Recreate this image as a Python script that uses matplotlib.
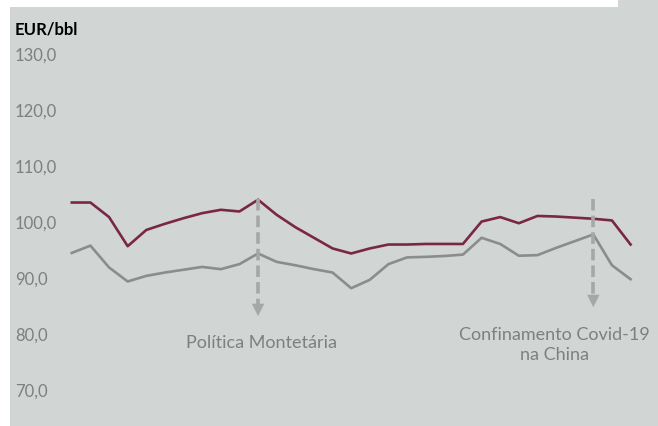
import matplotlib
matplotlib.use("Agg")
import matplotlib.pyplot as plt
from matplotlib.patches import Rectangle

plt.rcParams["font.family"] = ["Lato", "DejaVu Sans"]

periods = list(range(31))
series_red = [103.3, 103.3, 100.7, 95.5, 98.4, 99.5, 100.5, 101.4, 102.0, 101.7,
              103.8, 101.1, 98.9, 97.0, 95.1, 94.2, 95.1, 95.8, 95.8, 95.9,
              95.9, 95.9, 99.9, 100.7, 99.6, 100.9, 100.8, 100.6, 100.4, 100.1,
              95.8]
series_gray = [94.3, 95.6, 91.7, 89.2, 90.2, 90.8, 91.3, 91.8, 91.4, 92.3,
               94.2, 92.7, 92.1, 91.4, 90.8, 88.0, 89.5, 92.3, 93.5, 93.6,
               93.75, 94.0, 97.0, 95.9, 93.8, 93.9, 95.2, 96.4, 97.6, 92.1,
               89.6]
ytick_values = [70, 80, 90, 100, 110, 120, 130]
ytick_labels = ["70,0", "80,0", "90,0", "100,0", "110,0", "120,0", "130,0"]
events = [(10, "Política Montetária"), (28, "Confinamento Covid-19\nna China")]

BG = "#d1d5d4"
RED = "#7a2747"
GREY = "#8b8d8c"
ARROW = "#a6a8a7"
TXT = "#7f7f7f"

W, H = 658, 427
fig = plt.figure(figsize=(W / 100, H / 100), dpi=100, facecolor=BG)
# white margins of the original screenshot
fig.patches.append(Rectangle((0, 0), 10 / W, 1, transform=fig.transFigure,
                             facecolor="white", edgecolor="none", zorder=-1))
fig.patches.append(Rectangle((0, 1 - 8 / H), 618 / W, 8 / H, transform=fig.transFigure,
                             facecolor="white", edgecolor="none", zorder=-1))

ax = fig.add_axes([15 / W, (427 - 423.6) / H, (649.2 - 15) / W, (423.6 - 31.6) / H])
ax.set_facecolor("none")
ax.set_xlim(-3.05, 31)
ax.set_ylim(64, 134)

ax.plot(periods, series_gray, color=GREY, lw=1.9, solid_joinstyle="round")
ax.plot(periods, series_red, color=RED, lw=1.9, solid_joinstyle="round")

for s in ax.spines.values():
    s.set_visible(False)
ax.set_xticks([])
ax.set_yticks(ytick_values)
ax.set_yticklabels(ytick_labels)
ax.tick_params(axis="y", length=0, pad=0, labelsize=12, labelcolor=TXT)
for lab in ax.get_yticklabels():
    lab.set_horizontalalignment("left")

ax.text(0, 0.985, "EUR/bbl", transform=ax.transAxes, fontsize=12,
        fontweight="bold", color="black", ha="left", va="bottom")

# event arrows
arrow_ends = {10: (103.9, 83.0), 28: (103.9, 84.6)}
for x, label in events:
    y0, y1 = arrow_ends[x]
    ax.plot([x, x], [y0, y1 + 1.5], color=ARROW, lw=2.6, ls=(0, (3.2, 1.4)))
    ax.annotate("", xy=(x, y1), xytext=(x, y1 + 2.4),
                arrowprops=dict(arrowstyle="-|>,head_length=0.9,head_width=0.45",
                                color=ARROW, lw=0, shrinkA=0, shrinkB=0))

ax.text(10.2, 78.4, events[0][1], fontsize=13, color=TXT, ha="center", va="center")
ax.text(25.9, 78.0, events[1][1], fontsize=13, color=TXT, ha="center", va="center",
        linespacing=1.35)

fig.savefig("out.png", dpi=100, facecolor=BG)
